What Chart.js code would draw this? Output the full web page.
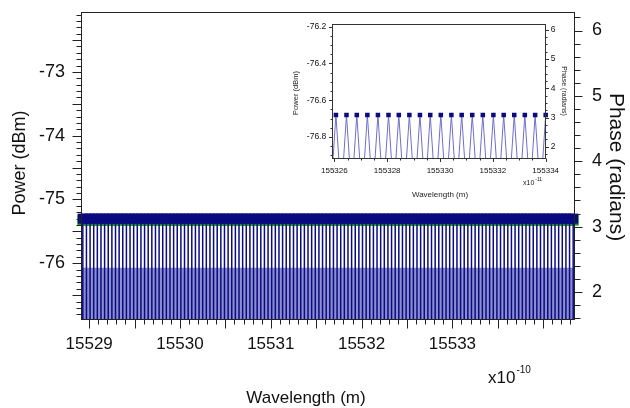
<!DOCTYPE html>
<html>
<head>
<meta charset="utf-8">
<script src="https://cdn.jsdelivr.net/npm/chart.js@4.4.1/dist/chart.umd.min.js"></script>
<style>
  html, body { margin: 0; padding: 0; background: #fff; }
  #wrap { position: relative; width: 630px; height: 408px; overflow: hidden; }
  #wrap canvas { position: absolute; }
</style>
</head>
<body>
<div id="wrap">
  <canvas id="main" width="630" height="408" style="left:0;top:0"></canvas>
  <canvas id="inset" width="289" height="187" style="left:285px;top:13px"></canvas>
</div>
<script>
// ---------- Main spectrum: comb lines, wavelength in units of 1e-10 m ----------
const combWavelength = [
  15528.93, 15528.97,
  15529.01, 15529.05, 15529.09, 15529.13, 15529.17, 15529.21, 15529.25, 15529.29, 15529.33, 15529.37, 15529.41, 15529.45, 15529.49,
  15529.53, 15529.57, 15529.61, 15529.65, 15529.69, 15529.73, 15529.77, 15529.81, 15529.85, 15529.89, 15529.93, 15529.97,
  15530.01, 15530.05, 15530.09, 15530.13, 15530.17, 15530.21, 15530.25, 15530.29, 15530.33, 15530.37, 15530.41, 15530.45, 15530.49,
  15530.53, 15530.57, 15530.61, 15530.65, 15530.69, 15530.73, 15530.77, 15530.81, 15530.85, 15530.89, 15530.93, 15530.97,
  15531.01, 15531.05, 15531.09, 15531.13, 15531.17, 15531.21, 15531.25, 15531.29, 15531.33, 15531.37, 15531.41, 15531.45, 15531.49,
  15531.53, 15531.57, 15531.61, 15531.65, 15531.69, 15531.73, 15531.77, 15531.81, 15531.85, 15531.89, 15531.93, 15531.97,
  15532.01, 15532.05, 15532.09, 15532.13, 15532.17, 15532.21, 15532.25, 15532.29, 15532.33, 15532.37, 15532.41, 15532.45, 15532.49,
  15532.53, 15532.57, 15532.61, 15532.65, 15532.69, 15532.73, 15532.77, 15532.81, 15532.85, 15532.89, 15532.93, 15532.97,
  15533.01, 15533.05, 15533.09, 15533.13, 15533.17, 15533.21, 15533.25, 15533.29, 15533.33, 15533.37, 15533.41, 15533.45, 15533.49,
  15533.53, 15533.57, 15533.61, 15533.65, 15533.69, 15533.73, 15533.77, 15533.81, 15533.85, 15533.89, 15533.93, 15533.97,
  15534.01, 15534.05, 15534.09, 15534.13, 15534.17, 15534.21, 15534.25, 15534.29, 15534.33
];
const combPeakPower = -75.3;      // dBm, every line
const combPhase = 3.10;           // radians, every line
const shadedPowerLevel = -76.07;  // dBm, top of the dense lower region

const mainWavelengthRange = [15528.91, 15534.35];
const mainPowerRange = [-76.89, -72.06];
const mainPhaseRange = [1.5708, 6.2832];
const mainWavelengthTicks = [15529, 15530, 15531, 15532, 15533];
const mainPowerTicks = [-76, -75, -74, -73];
const mainPhaseTicks = [2, 3, 4, 5, 6];

// ---------- Inset: zoom on a few lines, wavelength in units of 1e-11 m ----------
const insetWavelength = [
  155326.06, 155326.46, 155326.85, 155327.25, 155327.65, 155328.05, 155328.44,
  155328.84, 155329.24, 155329.63, 155330.03, 155330.43, 155330.82, 155331.22,
  155331.62, 155332.02, 155332.41, 155332.81, 155333.21, 155333.60, 155334.00
];
const insetPeakPower = -76.68;    // dBm
const insetLineHalfWidth = 0.11;  // 1e-11 m, half width of a line at the bottom of the frame

const insetWavelengthRange = [155325.9, 155334.0];
const insetPowerRange = [-76.92, -76.185];
const insetPhaseRange = [1.58, 6.2];
const insetWavelengthTicks = [155326, 155328, 155330, 155332, 155334];
const insetPowerTicks = [-76.8, -76.6, -76.4, -76.2];
const insetPhaseTicks = [2, 3, 4, 5, 6];

const FONT = "'Liberation Sans', Arial, Helvetica, sans-serif";
const INK = '#111';
const NAVY = '#0b0b80';

// Frame box, minor/major tick marks pointing outward, and free text (titles, exponents)
function makeDecor(cfg) {
  return {
    id: 'decor',
    afterDraw(chart) {
      const { ctx, chartArea: a } = chart;
      const L = Math.round(a.left) + 0.5, R = Math.round(a.right) - 0.5;
      const T = Math.round(a.top) + 0.5, B = Math.round(a.bottom) - 0.5;
      ctx.save();
      ctx.strokeStyle = cfg.lineColor;
      ctx.lineWidth = 1;
      ctx.strokeRect(L, T, R - L, B - T);
      for (const t of cfg.ticks) {
        const s = chart.scales[t.scale];
        const k0 = Math.ceil(s.min / t.minor - 1e-6);
        const k1 = Math.floor(s.max / t.minor + 1e-6);
        for (let k = k0; k <= k1; k++) {
          const major = ((k % t.ratio) + t.ratio) % t.ratio === 0;
          const len = major ? t.majorLen : t.minorLen;
          const p = Math.round(s.getPixelForValue(k * t.minor)) + 0.5;
          ctx.beginPath();
          if (t.side === 'bottom') { ctx.moveTo(p, B); ctx.lineTo(p, B + len); }
          else if (t.side === 'left') { ctx.moveTo(L - len, p); ctx.lineTo(L, p); }
          else { ctx.moveTo(R, p); ctx.lineTo(R + len, p); }
          ctx.stroke();
        }
      }
      ctx.fillStyle = cfg.textColor;
      for (const t of cfg.texts) {
        ctx.save();
        ctx.translate(t.x, t.y);
        if (t.rot) ctx.rotate(t.rot * Math.PI / 180);
        ctx.font = t.size + 'px ' + FONT;
        ctx.textAlign = t.align || 'center';
        ctx.textBaseline = 'middle';
        ctx.fillText(t.text, 0, 0);
        if (t.sup) {
          const w = ctx.measureText(t.text).width;
          ctx.font = t.supSize + 'px ' + FONT;
          ctx.textAlign = 'left';
          ctx.fillText(t.sup, w + 1, t.supDy);
        }
        ctx.restore();
      }
      ctx.restore();
    }
  };
}

// Fixed-size axis box with no extra label padding, so the plot frame lands where it should
function fixedBox(prop, size) {
  return s => {
    s[prop] = size;
    s.paddingTop = 0; s.paddingBottom = 0; s.paddingLeft = 0; s.paddingRight = 0;
  };
}

function valueAxis(o) {
  return {
    type: 'linear',
    position: o.position,
    min: o.range[0],
    max: o.range[1],
    afterFit: o.fit,
    afterBuildTicks: s => { s.ticks = o.values.map(v => ({ value: v })); },
    grid: { display: false, drawTicks: true, tickLength: o.tickLength },
    border: { display: false },
    ticks: {
      autoSkip: false, maxRotation: 0, minRotation: 0,
      padding: o.padding,
      color: INK,
      font: { family: FONT, size: o.fontSize },
      callback: o.format
    }
  };
}

// ---------- Main chart ----------
const powerFloor = mainPowerRange[0];
const toothSegments = [];
combWavelength.forEach(w => {
  toothSegments.push({ x: w, y: powerFloor }, { x: w, y: combPeakPower }, { x: w, y: null });
});
const peakMarks = combWavelength.map(w => ({ x: w, y: combPeakPower }));
const phaseMarks = combWavelength.map(w => ({ x: w, y: combPhase }));
const shadedBand = mainWavelengthRange.map(w => ({ x: w, y: shadedPowerLevel }));
const markerClip = { left: 8, right: 8, top: 0, bottom: 0 };

new Chart(document.getElementById('main'), {
  type: 'line',
  data: {
    datasets: [
      { data: shadedBand, yAxisID: 'y', fill: 'start', backgroundColor: '#8b8dd0',
        borderWidth: 0, pointRadius: 0, order: 4 },
      { data: phaseMarks, yAxisID: 'y1', showLine: false, pointStyle: 'rect',
        pointRadius: 7.8, pointBackgroundColor: '#159a15', pointBorderWidth: 0,
        order: 3, clip: markerClip },
      { data: toothSegments, yAxisID: 'y', borderColor: NAVY, borderWidth: 1.5,
        pointRadius: 0, spanGaps: false, order: 2 },
      { data: peakMarks, yAxisID: 'y', showLine: false, pointStyle: 'rect',
        pointRadius: 7.07, pointBackgroundColor: NAVY, pointBorderWidth: 0,
        order: 1, clip: markerClip }
    ]
  },
  options: {
    responsive: false,
    animation: false,
    devicePixelRatio: 1,
    events: [],
    layout: { padding: { top: 12, left: 0, right: 0, bottom: 0 } },
    plugins: { legend: { display: false }, tooltip: { enabled: false } },
    scales: {
      x: valueAxis({ position: 'bottom', range: mainWavelengthRange, values: mainWavelengthTicks,
        fit: fixedBox('height', 88), tickLength: 9, padding: 5, fontSize: 17,
        format: v => String(v) }),
      y: valueAxis({ position: 'left', range: mainPowerRange, values: mainPowerTicks,
        fit: fixedBox('width', 81), tickLength: 9, padding: 7, fontSize: 18,
        format: v => String(v) }),
      y1: valueAxis({ position: 'right', range: mainPhaseRange, values: mainPhaseTicks,
        fit: fixedBox('width', 55), tickLength: 8, padding: 9, fontSize: 18,
        format: v => String(v) })
    }
  },
  plugins: [makeDecor({
    lineColor: '#222', textColor: INK,
    ticks: [
      { scale: 'x', side: 'bottom', minor: 0.1, ratio: 5, minorLen: 5, majorLen: 9 },
      { scale: 'y', side: 'left', minor: 0.1, ratio: 5, minorLen: 5, majorLen: 9 },
      { scale: 'y1', side: 'right', minor: 0.2, ratio: 5, minorLen: 6, majorLen: 8 }
    ],
    texts: [
      { text: 'Power (dBm)', x: 20, y: 163, size: 18, rot: -90 },
      { text: 'Phase (radians)', x: 616, y: 167, size: 21, rot: 90 },
      { text: 'Wavelength (m)', x: 306, y: 398, size: 17 },
      { text: 'x10', x: 488, y: 378, size: 17, align: 'left', sup: '-10', supSize: 10, supDy: -8 }
    ]
  })]
});

// ---------- Inset chart ----------
const insetFloor = insetPowerRange[0];
const insetTriangles = [];
insetWavelength.forEach(w => {
  insetTriangles.push(
    { x: w - insetLineHalfWidth, y: insetFloor },
    { x: w, y: insetPeakPower },
    { x: w + insetLineHalfWidth, y: insetFloor },
    { x: w, y: null }
  );
});
const insetMarks = insetWavelength.map(w => ({ x: w, y: insetPeakPower }));

new Chart(document.getElementById('inset'), {
  type: 'line',
  data: {
    datasets: [
      { data: insetTriangles, yAxisID: 'y', borderColor: '#6f6fcc', borderWidth: 1,
        pointRadius: 0, spanGaps: false, order: 2 },
      { data: insetMarks, yAxisID: 'y', showLine: false, pointStyle: 'rect',
        pointRadius: 3.2, pointBackgroundColor: NAVY, pointBorderWidth: 0,
        order: 1, clip: { left: 4, right: 4, top: 0, bottom: 0 } }
    ]
  },
  options: {
    responsive: false,
    animation: false,
    devicePixelRatio: 1,
    events: [],
    layout: { padding: { top: 11, left: 0, right: 0, bottom: 0 } },
    plugins: { legend: { display: false }, tooltip: { enabled: false } },
    scales: {
      x: valueAxis({ position: 'bottom', range: insetWavelengthRange, values: insetWavelengthTicks,
        fit: fixedBox('height', 41), tickLength: 3.5, padding: 3, fontSize: 8,
        format: v => String(v) }),
      y: valueAxis({ position: 'left', range: insetPowerRange, values: insetPowerTicks,
        fit: fixedBox('width', 46.7), tickLength: 3.5, padding: 2, fontSize: 8.5,
        format: v => v.toFixed(1) }),
      y1: valueAxis({ position: 'right', range: insetPhaseRange, values: insetPhaseTicks,
        fit: fixedBox('width', 28.3), tickLength: 3.5, padding: 1.5, fontSize: 8.5,
        format: v => String(v) })
    }
  },
  plugins: [makeDecor({
    lineColor: '#333', textColor: '#222',
    ticks: [
      { scale: 'x', side: 'bottom', minor: 0.5, ratio: 4, minorLen: 2, majorLen: 3.5 },
      { scale: 'y', side: 'left', minor: 0.05, ratio: 4, minorLen: 2, majorLen: 3.5 },
      { scale: 'y1', side: 'right', minor: 0.25, ratio: 4, minorLen: 2, majorLen: 3.5 }
    ],
    texts: [
      { text: 'Power (dBm)', x: 10.7, y: 80, size: 7.5, rot: -90 },
      { text: 'Phase (radians)', x: 279, y: 78, size: 7, rot: 90 },
      { text: 'Wavelength (m)', x: 155, y: 182, size: 8 },
      { text: 'x10', x: 238, y: 170, size: 7, align: 'left', sup: '-11', supSize: 5, supDy: -3.5 }
    ]
  })]
});
</script>
</body>
</html>
